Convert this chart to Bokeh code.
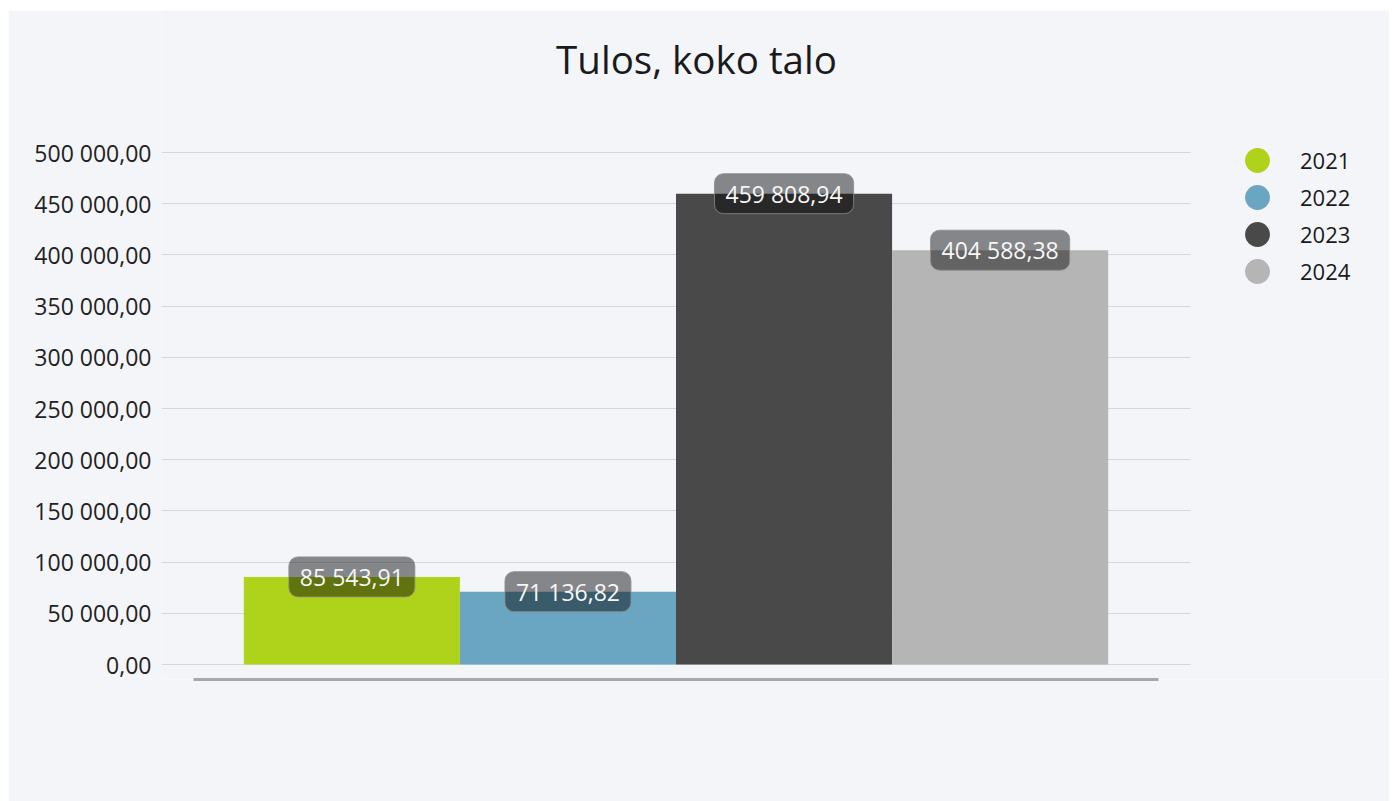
from bokeh.plotting import figure
from bokeh.models import (ColumnDataSource, Range1d, FixedTicker, CustomJSTickFormatter,
                          Legend, LegendItem, Label)
from bokeh.core.properties import value
from bokeh.embed import file_html
from bokeh.resources import INLINE

# ---- data ----
title_text = "Tulos, koko talo"
years = ["2021", "2022", "2023", "2024"]
values = [85543.91, 71136.82, 459808.94, 404588.38]
colors = ["#afd21b", "#6aa6c1", "#494949", "#b5b5b5"]
y_ticks = [0, 50000, 100000, 150000, 200000, 250000, 300000, 350000, 400000, 450000, 500000]

FONT = "Open Sans"
BG = "#f3f5f9"

def fi(v):
    return f"{v:,.2f}".replace(",", " ").replace(".", ",")

# ---- layout (pixels, relative to the figure) ----
W, H = 1381, 791
frame_left, frame_right = 153, W
frame_top, frame_bottom = 0, 669
zero_px = 654                              # y pixel of value 0
top_px = 142                               # y pixel of 500000
px_per_val = (zero_px - top_px) / 500000
group_px = 1029                            # px per x unit
bar_w = 0.21

y_start = -(frame_bottom - zero_px) / px_per_val
y_end = 500000 + (top_px - frame_top) / px_per_val
x_start = -0.5
x_end = x_start + (frame_right - frame_left) / group_px

n = len(years)
xs = [(i - (n - 1) / 2) * bar_w for i in range(n)]
src = ColumnDataSource(dict(x=xs, top=values, color=colors, year=years,
                            label=[fi(v) for v in values]))

p = figure(width=W, height=H, output_backend="svg", toolbar_location=None,
           x_range=Range1d(x_start, x_end), y_range=Range1d(y_start, y_end),
           min_border_left=frame_left, min_border_right=0,
           min_border_top=frame_top, min_border_bottom=H - frame_bottom,
           background_fill_color=BG, border_fill_color=BG, outline_line_color=None,
           margin=(10, 0, 0, 8))
p.title = None

# title as a label inside the (tall) frame
p.add_layout(Label(x=696 - 161, y=frame_bottom - 48, x_units="screen", y_units="screen",
                   text=title_text, text_align="center", text_baseline="alphabetic",
                   text_font=FONT, text_font_size="38.5px", text_color="#1a1a1a"))

p.vbar(x="x", top="top", width=bar_w, bottom=0, color="color", line_color=None, source=src)

p.text(x="x", y="top", text="label", source=src,
       text_font=value(FONT), text_font_size="23px", text_color="#f7f7f7",
       text_align="center", text_baseline="middle",
       background_fill_color="black", background_fill_alpha=0.45,
       border_line_color="#8c8c8c", border_line_alpha=0.8, border_line_width=1,
       padding=(11, 4), border_radius=9)

# y axis
ya = p.yaxis[0]
ya.ticker = FixedTicker(ticks=y_ticks)
ya.formatter = CustomJSTickFormatter(code="""
const s = tick.toFixed(2).split('.');
return s[0].replace(/\\B(?=(\\d{3})+(?!\\d))/g, ' ') + ',' + s[1];
""")
ya.axis_line_color = None
ya.major_tick_line_color = None
ya.minor_tick_line_color = None
ya.major_tick_out = 0
ya.major_tick_in = 0
ya.major_label_standoff = 10
ya.major_label_text_font = FONT
ya.major_label_text_font_size = "23px"
ya.major_label_text_color = "#222222"

# x axis: only the thick base line
xa = p.xaxis[0]
xa.ticker = FixedTicker(ticks=[])
xa.bounds = (-0.469, 0.469)
xa.axis_line_color = "#a7a8ab"
xa.axis_line_width = 3
xa.major_tick_line_color = None
xa.minor_tick_line_color = None
xa.major_label_text_font_size = "0px"

p.xgrid.grid_line_color = None
p.ygrid.grid_line_color = "#d5d7dc"
p.ygrid.grid_line_width = 1
p.ygrid.cross_bounds = (-0.5, 0.5)

# legend: one small legend per year, stacked 37px apart
leg_x = 1226 - 161
first_row = 160 - 10          # row centre, figure pixels
row_step = 37
for i, (yr, c) in enumerate(zip(years, colors)):
    r = p.scatter(x=[xs[i]], y=[float("nan")], size=25, marker="circle",
                  fill_color=c, line_color=None)
    centre = first_row + i * row_step
    leg = Legend(items=[LegendItem(label=yr, renderers=[r])],
                 location=(leg_x, frame_bottom - (centre + 31)),
                 glyph_width=62, glyph_height=62, label_height=62,
                 spacing=0, label_standoff=12, padding=0, margin=0,
                 background_fill_alpha=0, border_line_color=None,
                 label_text_font=FONT, label_text_font_size="22px",
                 label_text_color="#1a1a1a", label_text_baseline="middle")
    p.add_layout(leg, "center")

open("out.html", "w").write(file_html(p, INLINE))
